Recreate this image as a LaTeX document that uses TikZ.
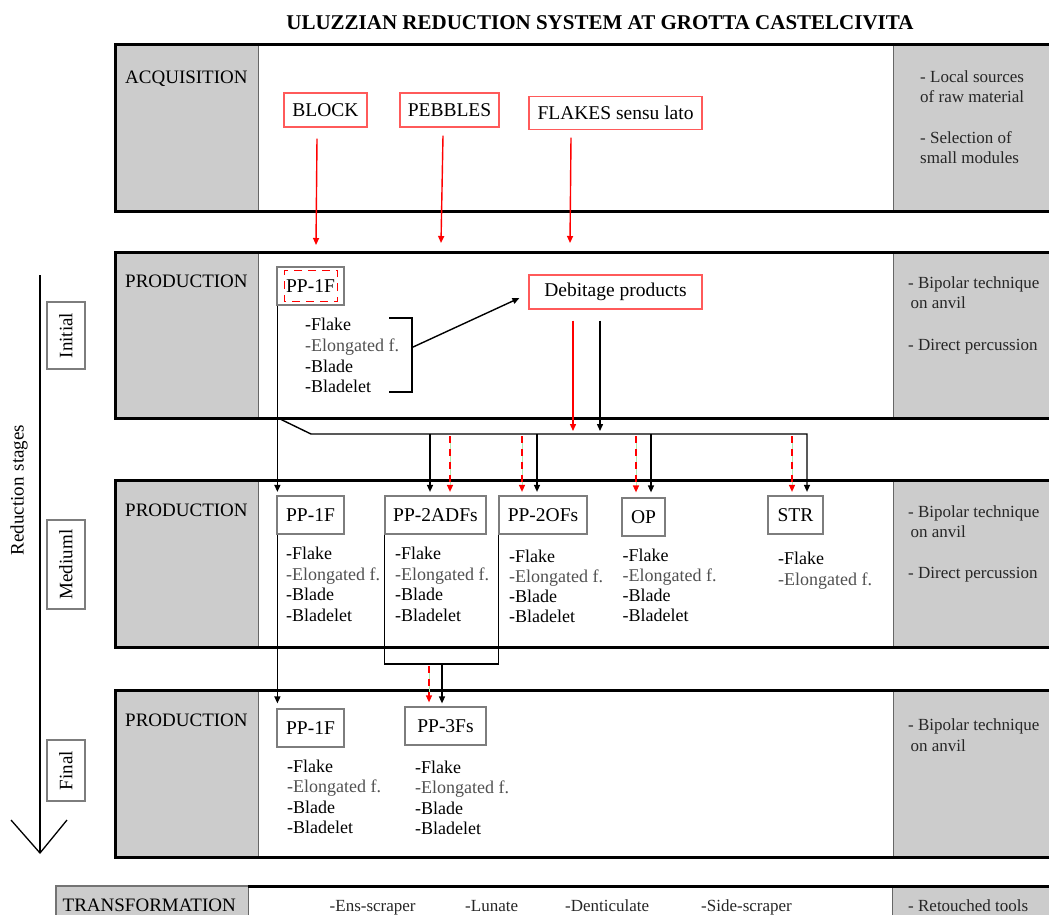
\documentclass[tikz,border=0pt]{standalone}
\usepackage{fontspec}
\setmainfont{Liberation Serif}
\usetikzlibrary{arrows.meta}
\definecolor{pgray}{RGB}{204,204,204}
\definecolor{boxred}{RGB}{255,90,90}
\definecolor{boxgray}{RGB}{125,125,125}
\definecolor{lgreen}{RGB}{175,235,175}
\definecolor{txtgray}{RGB}{80,80,80}
\tikzset{
 panelline/.style={line width=3pt, draw=black},
 cellline/.style={line width=1pt, draw=black!60},
 pbox/.style={draw=boxgray, line width=1.2pt, inner sep=0pt, minimum height=38pt, font=\fontsize{19.5}{22}\selectfont},
 rbox/.style={draw=boxred, line width=1.2pt, inner sep=0pt, minimum height=34pt, font=\fontsize{19.5}{22}\selectfont},
 plabel/.style={anchor=base west, inner sep=0pt, font=\fontsize{19}{22}\selectfont},
 item/.style={anchor=base west, inner sep=0pt, font=\fontsize{18}{20}\selectfont},
 note/.style={anchor=base west, inner sep=0pt, font=\fontsize{17}{20}\selectfont, text=black!85},
 blk/.style={line width=1.4pt, draw=black},
 tipstyle/.style={-{Triangle[length=7pt,width=6pt]}},
 blkarr/.style={blk, tipstyle},
 redarr/.style={line width=1.4pt, draw=red, tipstyle},
 reddash/.style={line width=1.4pt, draw=red, dash pattern=on 7pt off 6pt, tipstyle},
 greenline/.style={line width=0.6pt, draw=lgreen},
 stagebox/.style={draw=boxgray, line width=1.2pt, inner sep=0pt, rotate=90, minimum height=38pt, font=\fontsize{19}{22}\selectfont},
}
\newcommand\mylist[6]{\foreach \t [count=\i] in {#6}{\node (#2\i) [#1] at (#3,{#4+(\i-1)*#5}) {\t};}}
\begin{document}
\begin{tikzpicture}[x=1pt,y=-1pt]
\useasboundingbox (0,0) rectangle (1049,914);
\clip (0,0) rectangle (1049,914);

% title
\node (title) [inner sep=0pt, font=\fontsize{21}{24}\selectfont\bfseries] at (600,23) {ULUZZIAN REDUCTION SYSTEM AT GROTTA CASTELCIVITA};

% panels
\foreach \ya/\yb in {44/211, 252/418, 480/647, 690/857}{
  \fill[pgray] (115,\ya) rectangle (258,\yb);
  \fill[pgray] (893,\ya) rectangle (1055,\yb);
  \draw[cellline] (258,\ya) -- (258,\yb);
  \draw[cellline] (893,\ya) -- (893,\yb);
  \draw[panelline] (115,\ya) rectangle (1055,\yb);
}
% transformation panel
\fill[pgray] (56,886) rectangle (248,920);
\fill[pgray] (892,886) rectangle (1055,920);
\draw[line width=1.5pt, draw=black!55] (56,920) -- (56,886) -- (248,886);
\draw[cellline] (248,886) -- (248,920);
\draw[cellline] (892,886) -- (892,920);
\draw[panelline] (248,886) -- (1055,886);

% panel labels
\node (lacq) [plabel] at (125,83) {ACQUISITION};
\node (lpi) [plabel] at (125,287) {PRODUCTION};
\node (lpm) [plabel] at (125,516) {PRODUCTION};
\node (lpf) [plabel] at (125,726) {PRODUCTION};
\node (ltr) [plabel] at (62.5,911.5) {TRANSFORMATION};

% right notes
\mylist{note}{na}{920}{82.5}{20}{- Local sources, of raw material}
\mylist{note}{nb}{920}{143.5}{20}{- Selection of, small modules}
\mylist{note}{nc}{908}{288.5}{20}{- Bipolar technique, \hspace{2.5pt}on anvil}
\node (nd) [note] at (908,350.5) {- Direct percussion};
\mylist{note}{ne}{908}{517.5}{20}{- Bipolar technique, \hspace{2.5pt}on anvil}
\node (nf) [note] at (908,578.5) {- Direct percussion};
\mylist{note}{ng}{908}{730.5}{21}{- Bipolar technique, \hspace{2.5pt}on anvil}
\node (nh) [note] at (908,911.5) {- Retouched tools};

% transformation items
\node (t1) [note] at (329.5,911.5) {-Ens-scraper};
\node (t2) [note] at (465,911.5) {-Lunate};
\node (t3) [note] at (565,911.5) {-Denticulate};
\node (t4) [note] at (701,911.5) {-Side-scraper};

% reduction axis
\coordinate (axtop) at (40,275);
\coordinate (axtip) at (40,853);
\draw[line width=1.3pt] (axtop) -- (axtip);
\draw[line width=1.3pt] (11,820) -- (axtip) -- (67,820);
\node (red) [inner sep=0pt, rotate=90, font=\fontsize{19}{22}\selectfont] at (19,490) {Reduction\hspace{6pt}stages};
\node (sti) [stagebox, minimum width=67pt] at (66,335.5) {Initial};
\node (stm) [stagebox, minimum width=89pt] at (66,564.5) {Mediuml};
\node (stf) [stagebox, minimum width=61pt] at (66,770.5) {Final};

% acquisition boxes
\node (block) [rbox, minimum width=83pt] at (325.5,110) {BLOCK};
\node (pebbles) [rbox, minimum width=99pt] at (449.5,110) {PEBBLES};
\node (flakes) [rbox, minimum width=173pt, minimum height=33pt] at (615.5,113) {FLAKES sensu lato};
\coordinate (ba) at (316,245);
\coordinate (pa) at (441,243);
\coordinate (fa) at (570,243);
\draw[redarr] ([xshift=-8.5pt,yshift=-11pt]block.south) -- (ba);
\draw[redarr] ([xshift=-6.5pt,yshift=-8pt]pebbles.south) -- (pa);
\draw[redarr] ([xshift=-44.5pt,yshift=-7.5pt]flakes.south) -- (fa);

% initial production
\node (p1i) [pbox, minimum width=67pt] at (310.5,286) {PP-1F};
\draw[draw=red, line width=1.3pt, dash pattern=on 8pt off 6pt, dash phase=3pt] ([xshift=8pt,yshift=-4pt]p1i.north west) rectangle ([xshift=-7pt,yshift=4pt]p1i.south east);
\mylist{item}{li}{305}{330.5}{20.8}{-Flake, {\color{txtgray}-Elongated f.}, -Blade, -Bladelet}
\coordinate (brk) at (412,347.5);
\draw[blk] (389,318) -| (412,392) -- (389,392);
\node (deb) [rbox, minimum width=173pt] at (615.5,292) {Debitage products};
\draw[blkarr] (brk) -- ([xshift=-9pt,yshift=-6pt]deb.west);
\coordinate (da) at (573,434);
\coordinate (db) at (600,434);
\draw[redarr, shorten >=3pt] ([xshift=-42.5pt,yshift=-11pt]deb.south) -- (da);
\draw[blkarr, shorten >=3pt] ([xshift=-15.5pt,yshift=-11pt]deb.south) -- (db);

% medium production boxes
\node (p1m) [pbox, minimum width=67pt] at (310.5,515) {PP-1F};
\node (adf) [pbox, minimum width=101pt] at (435.5,515) {PP-2ADFs};
\node (ofs) [pbox, minimum width=88pt] at (543,515) {PP-2OFs};
\node (op) [pbox, minimum width=43pt] at (643.5,517) {OP};
\node (str) [pbox, minimum width=55pt] at (795.5,515) {STR};

% distribution network
\coordinate (j1) at (278,418);
\coordinate (j2) at (311,434);
\coordinate (j3) at (807,434);
\coordinate (d1) at (430,434);
\coordinate (d2) at (537,434);
\coordinate (d3) at (651,434);
\coordinate (r1) at (450,434);
\coordinate (r2) at (522,434);
\coordinate (r3) at (636,434);
\coordinate (r4) at (792,434);
\draw[blkarr, shorten >=3.5pt] ([xshift=1pt]p1i.south west) -- ([xshift=1pt]p1m.north west);
\draw[blkarr, shorten >=3.5pt] (j1) -- (j2) -- (j3) -- (j3 |- str.north);
\draw[blkarr, shorten >=3.5pt] (d1) -- (d1 |- adf.north);
\draw[blkarr, shorten >=3.5pt] (d2) -- (d2 |- ofs.north);
\draw[blkarr, shorten >=5pt] (d3) -- (d3 |- op.north);
\foreach \r/\n/\s in {r1/adf/3.5pt, r2/ofs/3.5pt, r3/op/5pt, r4/str/3.5pt}{
  \draw[greenline, shorten <=2pt, shorten >=8pt] (\r) -- (\r |- \n.north);
  \draw[reddash, shorten <=2pt, shorten >=\s] (\r) -- (\r |- \n.north);
}

% medium lists
\mylist{item}{lm}{286}{559.5}{20.5}{-Flake, {\color{txtgray}-Elongated f.}, -Blade, -Bladelet}
\mylist{item}{la}{395}{559.5}{20.5}{-Flake, {\color{txtgray}-Elongated f.}, -Blade, -Bladelet}
\mylist{item}{lo}{509}{562.5}{20}{-Flake, {\color{txtgray}-Elongated f.}, -Blade, -Bladelet}
\mylist{item}{lp}{622.5}{561.5}{20}{-Flake, {\color{txtgray}-Elongated f.}, -Blade, -Bladelet}
\mylist{item}{ls}{778}{564.5}{21}{-Flake, {\color{txtgray}-Elongated f.}}

% final production
\node (p1f) [pbox, minimum width=67pt] at (310.5,728) {PP-1F};
\node (p3) [pbox, minimum width=81pt] at (445.5,726) {PP-3Fs};
\coordinate (e1) at (442,664);
\coordinate (e2) at (429,664);
\draw[blk] (adf.south west) -- (adf.south west |- e1) -- (ofs.south west |- e1) -- (ofs.south west);
\draw[blkarr, shorten >=3pt] (e1) -- (e1 |- p3.north);
\draw[greenline, shorten <=2pt, shorten >=8pt] (e2) -- (e2 |- p3.north);
\draw[reddash, shorten <=2pt, shorten >=4pt] (e2) -- (e2 |- p3.north);
\draw[blkarr, shorten >=5pt] ([xshift=1pt]p1m.south west) -- ([xshift=1pt]p1f.north west);
\mylist{item}{lf}{287}{772.5}{20.3}{-Flake, {\color{txtgray}-Elongated f.}, -Blade, -Bladelet}
\mylist{item}{lt}{415}{773.5}{20.3}{-Flake, {\color{txtgray}-Elongated f.}, -Blade, -Bladelet}
\end{tikzpicture}
\end{document}
